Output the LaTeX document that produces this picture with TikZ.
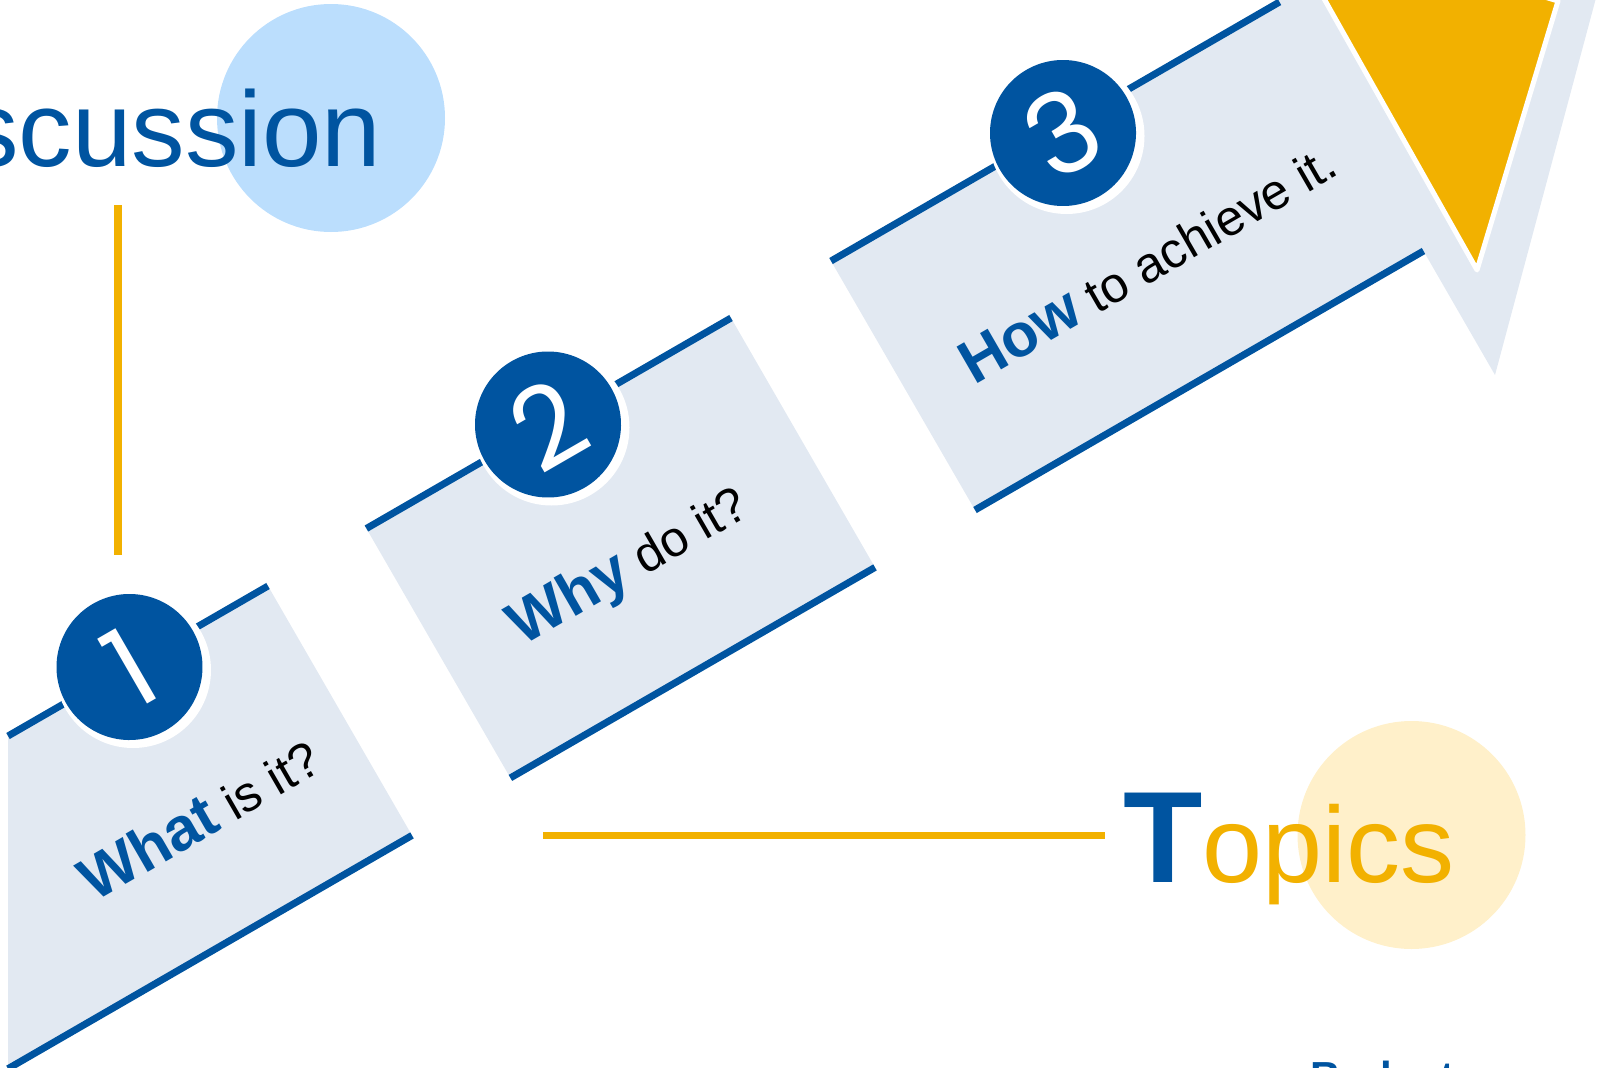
\documentclass[tikz,border=0pt]{standalone}
\usepackage{fontspec}
\setmainfont{Liberation Sans}
\newfontfamily\digitfont{Poppins}
\usetikzlibrary{arrows.meta}

\definecolor{blueline}{RGB}{0,84,160}
\definecolor{cardfill}{RGB}{226,233,242}
\definecolor{ambertone}{RGB}{242,177,0}
\definecolor{skycircle}{RGB}{187,222,253}
\definecolor{creamcircle}{RGB}{255,240,202}
\newcommand\keyword[1]{{\fontsize{61}{64}\selectfont\bfseries\color{blueline}#1}}

\begin{document}
\begin{tikzpicture}[x=1pt,y=-1pt,
  edge/.style={draw=blueline,line width=7pt},
  amber/.style={draw=ambertone,line width=7.5pt},
  halo/.style={circle,fill=white,minimum size=156pt,inner sep=0pt},
  badge/.style={circle,fill=blueline,minimum size=146pt,inner sep=0pt,text=white,
    font=\digitfont\fontsize{112}{112}\selectfont,rotate=30},
  caption/.style={anchor=base west,inner sep=0pt,rotate=30,
    font=\fontsize{50}{54}\selectfont}]

\useasboundingbox (0,0) rectangle (1604,1068);
\clip (0,0) rectangle (1604,1068);

% soft circles behind the titles
\fill[skycircle] (331,118) circle[radius=114pt];
\fill[creamcircle] (1411.5,835) circle[radius=114pt];

% amber rules
\coordinate (vtop) at (118,205);
\coordinate (vbot) at (118,555);
\coordinate (hleft) at (543,835.5);
\coordinate (hright) at (1105,835.5);
\draw[amber] (vtop) -- (vbot);
\draw[amber] (hleft) -- (hright);

% card 1
\fill[cardfill] (8,736) -- (268,586) -- (412,835.4) -- (8,1068.7) -- cycle;
\draw[edge] (8,736) -- (268,586);
\draw[edge] (412,835.4) -- (8,1068.7);

% card 2
\fill[cardfill] (366.4,528.5) -- (731,318) -- (875,567.4) -- (510.4,777.9) -- cycle;
\draw[edge] (366.4,528.5) -- (731,318);
\draw[edge] (875,567.4) -- (510.4,777.9);

% card 3 with the arrow head
\fill[cardfill] (831,261) -- (1279.5,2) -- (1208,-122) -- (1600,-17)
  -- (1495,375) -- (1423.5,251) -- (975,510) -- cycle;
\draw[edge] (831,261) -- (1279.5,2);
\draw[edge] (975,510) -- (1423.5,251);
\filldraw[fill=ambertone,draw=white,line width=5pt,line join=round]
  (1477,270) -- (1558,1) -- (1278,-83) -- cycle;

% numbered badges
\node[halo] (h1) at (133,670) {};
\node[halo] (h2) at (551.5,427.5) {};
\node[halo] (h3) at (1066.5,136) {};
\node[badge] (one) at (129.5,667) {1};
\node[badge] (two) at (548,424.5) {2};
\node[badge] (three) at (1063,133) {3};

% card texts
\node[caption] (what) at (94,903) {\keyword{What} is it?};
\node[caption] (why) at (522,647) {\keyword{Why} do it?};
\node[caption] (how) at (974,385.5) {\keyword{How} to achieve it.};

% titles
\node[anchor=base west,inner sep=0pt,text=blueline,font=\fontsize{107}{110}\selectfont]
  (discussion) at (-35,166) {scussion};
\node[anchor=base west,inner sep=0pt,font=\fontsize{108}{110}\selectfont]
  (topics) at (1123,882.7)
  {{\fontsize{130}{130}\selectfont\bfseries\color{blueline}T}{\color{ambertone}opics}};
\node[anchor=base west,inner sep=0pt,text=blueline,font=\fontsize{42}{44}\selectfont\bfseries]
  (budget) at (1310,1091) {Budget};

\end{tikzpicture}
\end{document}
